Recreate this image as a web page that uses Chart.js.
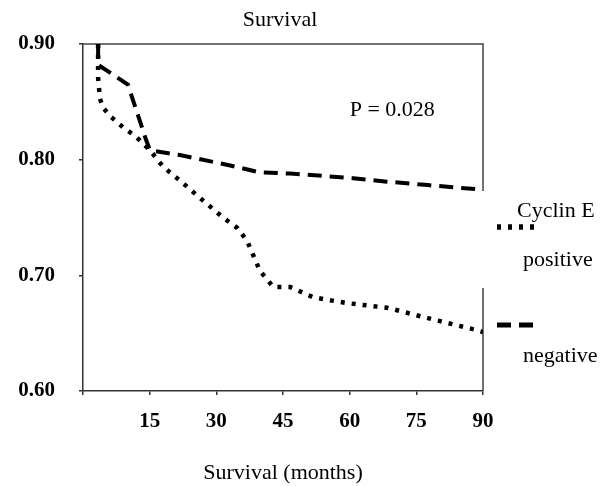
<!DOCTYPE html>
<html lang="en">
<head>
<meta charset="UTF-8">
<title>Survival</title>
<script src="https://cdn.jsdelivr.net/npm/chart.js"></script>
<style>
    body { margin: 0; background: #fff; }
    #chartContainer { width: 613px; height: 486px; position: relative; }
</style>
</head>
<body>
<div id="chartContainer"><canvas id="survivalChart"></canvas></div>
<script>
// Kaplan-Meier style curves
const monthsPositive = [3.4, 3.4, 3.8, 4.5, 6.3, 9, 11.9, 15.1, 18, 21.8, 26.3, 31.5, 34.7, 36.9, 39.8, 42.8, 46.6, 51.8, 59.4, 68.4, 77.6, 88.2, 90];
const survivalPositive = [0.900, 0.871, 0.853, 0.845, 0.837, 0.828, 0.820, 0.808, 0.794, 0.782, 0.767, 0.750, 0.741, 0.730, 0.704, 0.690, 0.690, 0.681, 0.676, 0.672, 0.663, 0.653, 0.651];
const monthsNegative = [3.4, 3.4, 10.1, 14.2, 15.1, 21.8, 33.1, 39.8, 46.6, 60.8, 68.4, 77.6, 90];
const survivalNegative = [0.900, 0.882, 0.865, 0.817, 0.808, 0.804, 0.795, 0.789, 0.788, 0.784, 0.781, 0.778, 0.774];

const xTicks = [0, 15, 30, 45, 60, 75, 90];
const xTickLabels = ['', '15', '30', '45', '60', '75', '90'];
const yTicks = [0.6, 0.7, 0.8, 0.9];
const yTickLabels = ['0.60', '0.70', '0.80', '0.90'];

const chartTitle = 'Survival';
const xTitle = 'Survival (months)';
const pValueText = 'P = 0.028';
const legendTitle = 'Cyclin E';
const seriesLabels = ['positive', 'negative'];

const serif = '"Liberation Serif", "Times New Roman", serif';

function toPoints(xs, ys) {
    return xs.map((x, i) => ({ x: x, y: ys[i] }));
}

const extrasPlugin = {
    id: 'extras',
    beforeDatasetsDraw(chart) {
        const { ctx, chartArea: a } = chart;
        ctx.save();
        ctx.strokeStyle = '#444';
        ctx.lineWidth = 1.5;
        ctx.beginPath();
        ctx.moveTo(a.left, a.top);
        ctx.lineTo(a.right, a.top);
        ctx.lineTo(a.right, a.bottom);
        ctx.stroke();
        ctx.restore();
    },
    afterDraw(chart) {
        const { ctx, chartArea: a, scales } = chart;
        ctx.save();
        ctx.fillStyle = '#000';
        ctx.font = '22px ' + serif;
        ctx.textAlign = 'center';
        ctx.textBaseline = 'alphabetic';
        ctx.fillText(chartTitle, (a.left + a.right) / 2 - 3, 26);

        ctx.textAlign = 'left';
        ctx.fillText(pValueText, scales.x.getPixelForValue(60), scales.y.getPixelForValue(0.838));

        // legend box (covers part of the right border)
        ctx.fillStyle = '#fff';
        ctx.fillRect(a.right - 1, 191, chart.width - a.right + 1, 97);

        ctx.fillStyle = '#000';
        ctx.fillText(legendTitle, 517, 217);
        const sampleY = [227, 325];
        const textY = [266, 362];
        chart.data.datasets.forEach((ds, i) => {
            ctx.save();
            ctx.strokeStyle = ds.borderColor;
            ctx.lineWidth = ds.borderWidth + 1;
            ctx.setLineDash(ds.borderDash);
            ctx.beginPath();
            ctx.moveTo(497, sampleY[i]);
            ctx.lineTo(536, sampleY[i]);
            ctx.stroke();
            ctx.restore();
            ctx.fillText(ds.label, 523, textY[i]);
        });
        ctx.restore();
    }
};

const ctx = document.getElementById('survivalChart').getContext('2d');
new Chart(ctx, {
    type: 'scatter',
    data: {
        datasets: [{
            label: seriesLabels[0],
            data: toPoints(monthsPositive, survivalPositive),
            showLine: true,
            borderColor: '#000',
            borderWidth: 4.5,
            borderDash: [4, 7],
            pointRadius: 0,
            tension: 0
        }, {
            label: seriesLabels[1],
            data: toPoints(monthsNegative, survivalNegative),
            showLine: true,
            borderColor: '#000',
            borderWidth: 4,
            borderDash: [14, 8],
            pointRadius: 0,
            tension: 0
        }]
    },
    options: {
        responsive: true,
        maintainAspectRatio: false,
        animation: false,
        layout: { padding: { top: 44, right: 130, bottom: 0, left: 0 } },
        plugins: {
            legend: { display: false },
            title: { display: false },
            tooltip: { enabled: false }
        },
        scales: {
            x: {
                type: 'linear',
                min: 0,
                max: 90,
                afterBuildTicks: axis => { axis.ticks = xTicks.map(v => ({ value: v })); },
                afterFit: scale => { scale.height = 95; },
                ticks: {
                    callback: (v, i) => xTickLabels[i],
                    font: { family: serif, size: 21, weight: 'bold' },
                    color: '#000',
                    padding: 14,
                    maxRotation: 0
                },
                grid: { drawOnChartArea: false, drawTicks: true, tickLength: 4, color: '#333', lineWidth: 1.5 },
                border: { display: true, color: '#333', width: 1.5 },
                title: {
                    display: true,
                    text: xTitle,
                    font: { family: serif, size: 22 },
                    color: '#000',
                    padding: { top: 0, bottom: 0 }
                }
            },
            y: {
                min: 0.6,
                max: 0.9,
                afterBuildTicks: axis => { axis.ticks = yTicks.map(v => ({ value: v })); },
                afterFit: scale => { scale.width = 83; },
                ticks: {
                    callback: (v, i) => yTickLabels[i],
                    font: { family: serif, size: 21, weight: 'bold' },
                    color: '#000',
                    padding: 24
                },
                grid: { drawOnChartArea: false, drawTicks: true, tickLength: 4, color: '#333', lineWidth: 1.5 },
                border: { display: true, color: '#333', width: 1.5 }
            }
        }
    },
    plugins: [extrasPlugin]
});
</script>
</body>
</html>
